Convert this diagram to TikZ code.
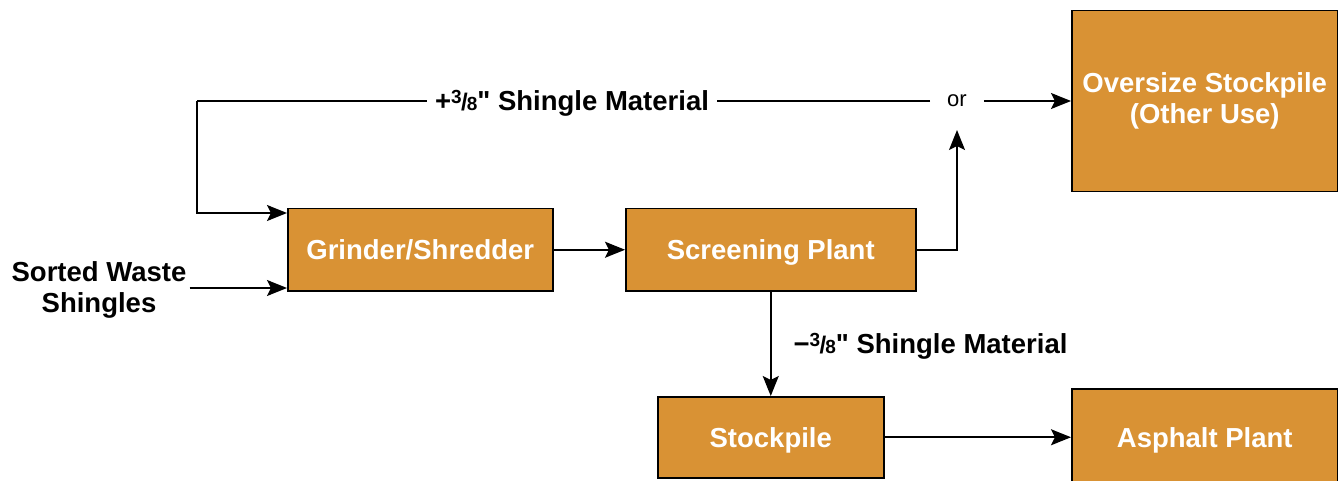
\documentclass[tikz,border=0pt]{standalone}
\usepackage{fontspec}
\setmainfont{Liberation Sans}[Ligatures=TeXOff]
\usetikzlibrary{arrows.meta}
\definecolor{boxorange}{RGB}{217,146,52}
\newcommand\myfrac{{\fontsize{19}{19}\selectfont\raisebox{7pt}{3}\kern-0.5pt{\fontsize{24}{24}\selectfont/}\kern-1pt8}}
\begin{document}
\begin{tikzpicture}[x=1pt,y=-1pt,
  box/.style={draw=black, line width=1.5pt, fill=boxorange, text=white,
    font=\fontsize{27.5}{31}\selectfont\bfseries, align=center, inner sep=0pt, anchor=north west},
  boxone/.style={box, text height=19.7pt, text depth=0pt},
  lbl/.style={font=\fontsize{27.5}{31}\selectfont\bfseries, align=center},
  arr/.style={line width=1.6pt, -{Stealth[length=20pt,width=16pt,inset=4pt]}},
  ln/.style={line width=1.6pt}]
\useasboundingbox (0,0) rectangle (1338,481);
\node[boxone, minimum width=265pt, minimum height=82pt] (grind) at (287,208) {Grinder/Shredder};
\node[boxone, minimum width=290pt, minimum height=82pt] (screen) at (625,208) {Screening Plant};
\node[boxone, minimum width=226pt, minimum height=81pt] (stock) at (657,396) {Stockpile};
\node[box, minimum width=266pt, minimum height=181pt] (over) at (1071,10) {Oversize Stockpile\\(Other Use)};
\node[boxone, minimum width=266pt, minimum height=98pt] (asph) at (1071,388) {Asphalt Plant};
\node[lbl, inner sep=3pt] (sorted) at (99,290) {Sorted Waste\\Shingles};
\node[font=\fontsize{22}{26}\selectfont, inner xsep=17pt, inner ysep=2pt] (or) at (957,101) {or};
\coordinate (c1) at (197,101);
\draw[ln] (or.west) -- (c1);
\node[lbl, fill=white, inner xsep=8pt, text height=19.7pt, text depth=0pt] (plus) at (572,101) {+\myfrac" Shingle Material};
\draw[arr] (c1) |- ([yshift=-5pt]grind.north west);
\draw[arr] (sorted.east |- 0,288) -- (grind.west |- 0,288);
\draw[arr] (grind.east) -- (screen.west);
\draw[arr] (screen.east) -| ([yshift=-29pt]or.center);
\draw[arr] (or.east) -- (or.east -| over.west);
\draw[arr] (screen.south) -- (screen.south |- stock.north);
\draw[arr] (stock.east) -- (stock.east -| asph.west);
\node[lbl, anchor=west, text height=19.7pt, text depth=0pt] (minus) at (790,344) {−\myfrac" Shingle Material};
\end{tikzpicture}
\end{document}
